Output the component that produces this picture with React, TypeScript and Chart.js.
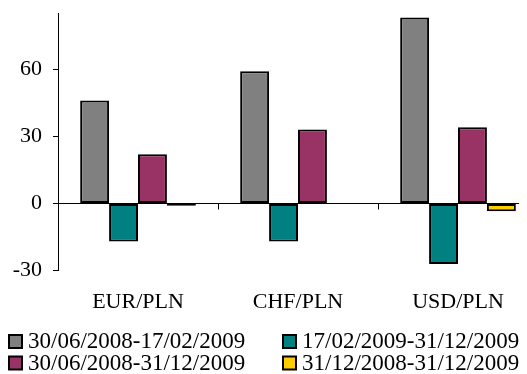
import React, { useEffect, useRef } from "react";
import { Chart, registerables } from "chart.js";

Chart.register(...registerables);

const categories = ["EUR/PLN", "CHF/PLN", "USD/PLN"];
const seriesLabels = [
  "30/06/2008-17/02/2009",
  "17/02/2009-31/12/2009",
  "30/06/2008-31/12/2009",
  "31/12/2008-31/12/2009",
];
const series1 = [46, 59, 83];
const series2 = [-17, -17, -27];
const series3 = [22, 33, 34];
const series4 = [-1, 0, -3.5];
const seriesColors = ["#808080", "#008080", "#993366", "#FFCC00"];
const yTickValues = [-30, 0, 30, 60];
const yMin = -30;
const yMax = 85;

const FONT = "'Liberation Serif', 'Times New Roman', serif";

const categoryTicksPlugin = {
  id: "categoryTicks",
  afterDraw(chart: any) {
    const xs = chart.scales.x;
    const ys = chart.scales.y;
    const ctx = chart.ctx;
    const y0 = ys.getPixelForValue(0);
    ctx.save();
    ctx.strokeStyle = "#000";
    ctx.lineWidth = 1;
    const n = categories.length;
    for (let i = 1; i <= n; i++) {
      const a = xs.getPixelForValue(i - 1);
      const b = i < n ? xs.getPixelForValue(i) : a + (a - xs.getPixelForValue(i - 2));
      const x = Math.round((a + b) / 2) + 0.5;
      ctx.beginPath();
      ctx.moveTo(x, y0);
      ctx.lineTo(x, y0 + 6);
      ctx.stroke();
    }
    ctx.restore();
  },
};

const legendPlugin = {
  id: "gridLegend",
  afterDraw(chart: any) {
    const ctx = chart.ctx;
    const ds = chart.data.datasets;
    const colX = [0, 274];
    const rowY = [333, 354.5];
    ctx.save();
    ctx.font = `23px ${FONT}`;
    ctx.textBaseline = "middle";
    ctx.textAlign = "left";
    ds.forEach((d: any, i: number) => {
      const col = i % 2;
      const row = Math.floor(i / 2);
      const bx = colX[col];
      const by = rowY[row];
      ctx.fillStyle = d.backgroundColor;
      ctx.fillRect(bx + 1, by - 6, 13, 13);
      ctx.strokeStyle = "#000";
      ctx.lineWidth = 2;
      ctx.strokeRect(bx + 1, by - 6, 13, 13);
      ctx.fillStyle = "#000";
      ctx.fillText(d.label, bx + 20, by + 1);
    });
    ctx.restore();
  },
};

export default function App() {
  const ref = useRef<HTMLCanvasElement | null>(null);

  useEffect(() => {
    document.body.style.overflow = "hidden";
    const values = [series1, series2, series3, series4];
    const chart = new Chart(ref.current as HTMLCanvasElement, {
      type: "bar",
      data: {
        labels: categories,
        datasets: values.map((v, i) => ({
          label: seriesLabels[i],
          data: v,
          backgroundColor: seriesColors[i],
          borderColor: "#000",
          borderWidth: 2,
          borderSkipped: false,
          categoryPercentage: 0.723,
          barPercentage: 1,
        })),
      },
      options: {
        responsive: false,
        animation: false,
        events: [],
        layout: { padding: { top: 5, right: 10, left: 0, bottom: 0 } },
        plugins: {
          legend: { display: false },
          tooltip: { enabled: false },
          title: { display: false },
        },
        scales: {
          x: {
            grid: { display: false },
            border: { display: false },
            ticks: {
              color: "#000",
              font: { family: FONT, size: 22 },
              padding: 10,
              maxRotation: 0,
            },
            afterFit(scale: any) {
              scale.height = 103.3;
              scale.paddingLeft = 0;
              scale.paddingRight = 0;
            },
          },
          y: {
            min: yMin,
            max: yMax,
            afterBuildTicks(scale: any) {
              scale.ticks = yTickValues.map((v) => ({ value: v }));
            },
            afterFit(scale: any) {
              scale.width = 50;
              scale.paddingTop = 0;
              scale.paddingBottom = 0;
            },
            border: { display: true, color: "#000", width: 1 },
            grid: {
              drawOnChartArea: true,
              drawTicks: true,
              tickLength: 5,
              tickColor: "#000",
              color: (c: any) => (c.tick && c.tick.value === 0 ? "#000" : "rgba(0,0,0,0)"),
              lineWidth: 1,
            },
            ticks: {
              color: "#000",
              font: { family: FONT, size: 22 },
              padding: 11,
            },
          },
        },
      },
      plugins: [categoryTicksPlugin, legendPlugin],
    });
    return () => chart.destroy();
  }, []);

  return (
    <div style={{ width: 540, height: 366 }}>
      <canvas ref={ref} width={540} height={366} style={{ display: "block", width: 540, height: 366 }} />
    </div>
  );
}
